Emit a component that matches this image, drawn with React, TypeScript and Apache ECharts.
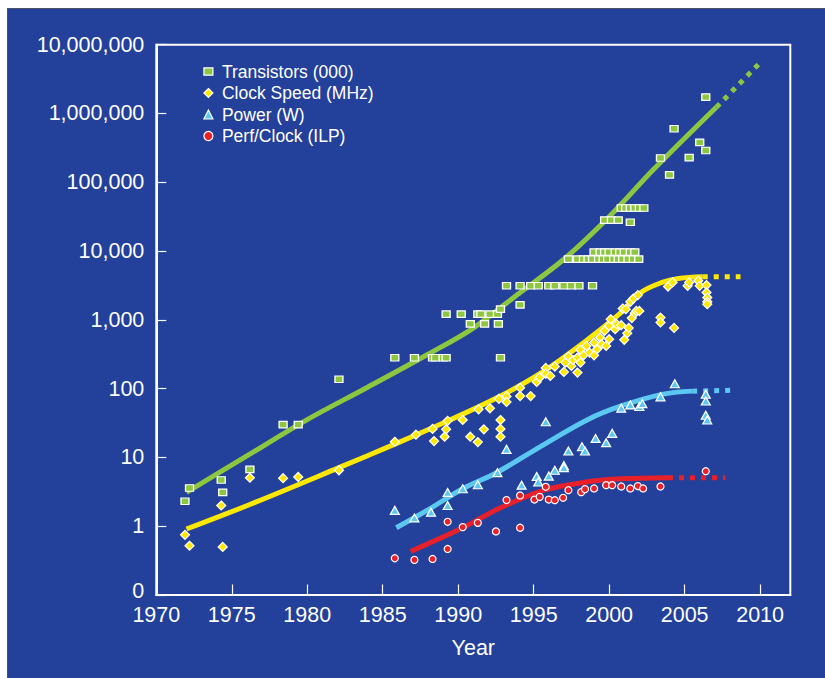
import React, { useEffect, useRef } from 'react';
import * as echarts from 'echarts';

// ---------- data (year, value) ----------
const transistorPoints: [number, number][] = [
  [1971.9, 2.3], [1972.2, 3.6], [1974.3, 4.7], [1974.4, 3.1], [1976.2, 6.7],
  [1978.4, 30], [1979.4, 30], [1982.1, 137],
  [1985.8, 282], [1987.1, 282], [1988.3, 282], [1988.5, 282], [1989.0, 282], [1989.2, 282], [1992.8, 282],
  [1989.2, 1210], [1990.2, 1210], [1991.3, 1210], [1991.5, 1210], [1992.1, 1210], [1992.6, 1210], [1992.8, 1430],
  [1990.8, 875], [1991.75, 875], [1992.66, 875], [1994.1, 1650],
  [1993.2, 3130], [1994.1, 3130], [1994.8, 3130], [1995.3, 3130], [1996.0, 3130], [1996.4, 3130],
  [1997.0, 3130], [1997.5, 3130], [1998.0, 3130], [1998.9, 3130],
  [1997.3, 7640], [1997.9, 7640], [1998.3, 7640], [1998.6, 7640], [1998.9, 7640], [1999.3, 7640], [1999.6, 7640],
  [1999.9, 7640], [2000.3, 7640], [2000.6, 7640], [2000.9, 7640], [2001.25, 7640], [2001.6, 7640], [2001.96, 7640],
  [1999.0, 9660], [1999.4, 9660], [1999.7, 9660], [2000.0, 9660], [2000.4, 9660], [2000.7, 9660],
  [2001.0, 9660], [2001.4, 9660], [2001.7, 9660],
  [1999.7, 28200], [2000.15, 28200], [2000.6, 28200], [2001.4, 26300],
  [2000.8, 42200], [2001.1, 42200], [2001.4, 42200], [2001.7, 42200], [2002.0, 42200], [2002.3, 42200],
  [2003.4, 225000], [2004.0, 128000], [2004.3, 600000], [2005.3, 228000], [2006.0, 380000],
  [2006.4, 290000], [2006.4, 1730000],
];

const clockPoints: [number, number][] = [
  [1971.9, 0.75], [1972.2, 0.52], [1974.3, 2.0], [1974.4, 0.5], [1976.2, 5.06], [1978.4, 5], [1979.4, 5.2],
  [1982.1, 6.5], [1985.8, 16.9], [1987.2, 21.4], [1988.3, 26], [1988.4, 17.3], [1989.1, 20], [1989.2, 25.6],
  [1989.3, 34], [1990.3, 35], [1990.8, 20], [1991.3, 16.7], [1991.35, 50], [1991.7, 25.6], [1992.1, 51.8],
  [1992.7, 71], [1992.8, 35], [1992.8, 26], [1992.8, 20], [1993.2, 77], [1993.2, 64], [1994.1, 103],
  [1994.1, 78], [1994.8, 78], [1995.2, 125], [1995.4, 145], [1995.8, 200], [1995.8, 165], [1996.1, 153],
  [1996.4, 209], [1997.0, 175], [1997.1, 239], [1997.3, 293], [1997.5, 214], [1997.6, 261], [1997.9, 171],
  [1997.9, 283], [1998.1, 366], [1998.1, 239], [1998.3, 305], [1998.5, 418], [1998.7, 334], [1999.0, 305],
  [1999.0, 468], [1999.2, 374], [1999.4, 553], [1999.5, 443], [1999.7, 692], [1999.8, 418], [2000.0, 523],
  [2000.0, 818], [2000.1, 1020], [2000.4, 731], [2000.5, 865], [2000.8, 836], [2000.9, 1460], [2001.0, 512],
  [2001.1, 1430], [2001.2, 640], [2001.3, 764], [2001.4, 1830], [2001.5, 1060], [2001.6, 2040], [2001.7, 1250],
  [2001.8, 1350], [2001.9, 2290], [2002.0, 1350], [2003.4, 1080], [2003.4, 915], [2003.9, 3050], [2004.2, 3500],
  [2004.3, 764], [2005.2, 3120], [2005.3, 3500], [2005.9, 3700], [2006.0, 3120], [2006.45, 3200],
  [2006.45, 2500], [2006.5, 2110], [2006.5, 1830], [2006.5, 1690],
];

const powerPoints: [number, number][] = [
  [1985.8, 1.7], [1987.1, 1.32], [1988.2, 1.6], [1989.3, 2.0], [1989.3, 3.1], [1990.3, 3.5], [1991.3, 4.0],
  [1992.6, 6.0], [1993.2, 13.1], [1994.2, 3.95], [1995.2, 5.3], [1995.3, 4.4], [1995.8, 33], [1996.0, 5.35],
  [1996.4, 6.5], [1997.0, 7.6], [1997.0, 7.1], [1997.3, 12.4], [1998.2, 14.3], [1998.4, 12.4], [1999.1, 18.9],
  [1999.8, 16.4], [2000.2, 22.4], [2000.8, 52], [2001.4, 58], [2002.0, 55], [2002.2, 60.5], [2003.4, 76],
  [2004.35, 118], [2006.4, 83], [2006.4, 66], [2006.4, 41], [2006.5, 35],
];

const ilpPoints: [number, number][] = [
  [1985.8, 0.342], [1987.1, 0.324], [1988.3, 0.334], [1989.3, 0.467], [1989.3, 1.16], [1990.3, 0.97],
  [1991.3, 1.12], [1992.5, 0.84], [1993.2, 2.4], [1994.1, 2.8], [1994.1, 0.95], [1995.05, 2.44], [1995.4, 2.67],
  [1995.8, 3.74], [1996.0, 2.44], [1996.4, 2.39], [1996.95, 2.59], [1997.3, 3.34], [1998.15, 3.13], [1998.4, 3.46],
  [1999.0, 3.54], [1999.8, 3.95], [2000.2, 3.95], [2000.8, 3.78], [2001.4, 3.54], [2001.9, 3.83], [2002.25, 3.54],
  [2003.4, 3.78], [2006.4, 6.3],
];

// trend curves
const transistorTrend: [number, number][] = [
  [1972.0, 3.1], [1976.0, 10.5], [1980.0, 35.5], [1984.0, 105], [1988.0, 316], [1991.0, 760],
  [1994.0, 2400], [1997.0, 7600], [2000.0, 31600], [2003.0, 158000], [2007.1, 1230000],
];
const transistorProjection: [number, number][] = [[2007.1, 1230000], [2010.05, 5620000]];

const clockTrend: [number, number][] = [
  [1972.0, 0.91], [1976.2, 2.07], [1982.1, 7.1], [1985.8, 15.6], [1989.3, 33.8], [1992.8, 78],
  [1995.7, 181], [1998.6, 522], [2000.8, 1280], [2002.1, 2500], [2003.5, 3500], [2004.6, 4000], [2006.2, 4230],
];
const clockProjection: [number, number][] = [[2006.2, 4230], [2008.7, 4230]];

const powerTrend: [number, number][] = [
  [1985.9, 0.95], [1988.0, 1.73], [1990.3, 3.5], [1992.6, 6.1], [1995.7, 15.5], [1998.6, 35.7],
  [2000.8, 56], [2003.5, 82.6], [2005.5, 92],
];
const powerProjection: [number, number][] = [[2005.5, 92], [2008.3, 95]];

const ilpTrend: [number, number][] = [
  [1986.85, 0.43], [1990.3, 0.95], [1992.8, 1.85], [1995.7, 3.34], [1998.6, 4.43], [2000.8, 4.89], [2003.9, 5.06],
];
const ilpProjection: [number, number][] = [[2003.9, 5.06], [2007.7, 5.06]];

const seriesNames = ['Transistors (000)', 'Clock Speed (MHz)', 'Power (W)', 'Perf/Clock (ILP)'];
const xTickLabels = [1970, 1975, 1980, 1985, 1990, 1995, 2000, 2005, 2010];
const yZeroLabel = '0';

// ---------- styles ----------
const BG = '#23409A';
const FONT = 'Liberation Sans, Arial, sans-serif';
const GREEN = '#8DC63F';
const YELLOW = '#FFE800';
const BLUE = '#5BC8F2';
const RED = '#E8202A';

function trendSeries(name: string, data: [number, number][], color: string, dashed: boolean) {
  return {
    type: 'line',
    name,
    data,
    smooth: dashed ? false : 0.35,
    showSymbol: false,
    symbol: 'none',
    silent: true,
    z: 2,
    lineStyle: { color, width: 5, type: dashed ? [5, 6] : 'solid', cap: 'butt' },
  };
}

function scatterSeries(name: string, data: [number, number][], symbol: string, size: any, color: string) {
  return {
    type: 'scatter',
    name,
    data,
    symbol,
    symbolSize: size,
    z: 3,
    itemStyle: { color, borderColor: '#ffffff', borderWidth: 1.2, opacity: 1 },
  };
}

export default function App() {
  const ref = useRef<HTMLDivElement>(null);
  useEffect(() => {
    document.body.style.margin = '0';
    document.body.style.overflow = 'hidden';
    const chart = echarts.init(ref.current!, null, { renderer: 'svg' });
    const axisLine = { show: true, lineStyle: { color: '#ffffff', width: 2 } };
    chart.setOption({
      animation: false,
      grid: { left: 148.3, right: 34.7, top: 35.7, bottom: 83, show: true, borderColor: '#ffffff', borderWidth: 2 },
      legend: {
        orient: 'vertical',
        left: 195.3,
        top: 52.5,
        padding: 0,
        itemWidth: 9,
        itemHeight: 9,
        itemGap: 1.5,
        selectedMode: false,
        itemStyle: { borderColor: '#ffffff', borderWidth: 1.2 },
        data: [
          { name: seriesNames[0], icon: 'path://M0 0H10V8H0Z' },
          { name: seriesNames[1] },
          { name: seriesNames[2] },
          { name: seriesNames[3] },
        ],
        textStyle: { color: '#ffffff', fontSize: 17.5, fontFamily: FONT, lineHeight: 20, padding: [0, 0, 0, 4] },
      },
      xAxis: {
        type: 'value',
        min: 1970,
        max: 2012,
        interval: 5,
        axisLine,
        axisTick: { show: true, inside: true, length: 10.5, lineStyle: { color: '#ffffff', width: 1.2 } },
        axisLabel: {
          color: '#ffffff', fontSize: 21.5, fontFamily: FONT, margin: 10, showMaxLabel: false, lineHeight: 20,
          formatter: (v: number) => (xTickLabels.indexOf(Math.round(v)) >= 0 ? String(Math.round(v)) : ''),
        },
        splitLine: { show: false },
        name: 'Year',
        nameLocation: 'middle',
        nameGap: 42,
        nameTextStyle: { color: '#ffffff', fontSize: 21.5, fontFamily: FONT },
      },
      yAxis: {
        type: 'log',
        logBase: 10,
        min: 0.1,
        max: 10000000,
        splitNumber: 8,
        axisLine,
        axisTick: { show: true, inside: true, length: 10, lineStyle: { color: '#ffffff', width: 1.2 } },
        axisLabel: {
          color: '#ffffff', fontSize: 21.5, fontFamily: FONT, margin: 12, lineHeight: 16,
          formatter: (v: number) => (v < 0.5 ? '{z|' + yZeroLabel + '}' : Math.round(v).toLocaleString('en-US')),
          rich: {
            z: { color: '#ffffff', fontSize: 21.5, fontFamily: FONT, lineHeight: 14, padding: [0, 0, 8, 0] },
          },
        },
        splitLine: { show: false },
      },
      series: [
        trendSeries('tr-fit', transistorTrend, GREEN, false),
        trendSeries('tr-proj', transistorProjection, GREEN, true),
        trendSeries('clk-fit', clockTrend, YELLOW, false),
        trendSeries('clk-proj', clockProjection, YELLOW, true),
        trendSeries('pw-fit', powerTrend, BLUE, false),
        trendSeries('pw-proj', powerProjection, BLUE, true),
        trendSeries('ilp-fit', ilpTrend, RED, false),
        trendSeries('ilp-proj', ilpProjection, RED, true),
        scatterSeries(seriesNames[0], transistorPoints, 'rect', [8, 6.5], GREEN),
        scatterSeries(seriesNames[1], clockPoints, 'diamond', 9, YELLOW),
        scatterSeries(seriesNames[2], powerPoints, 'triangle', [9, 8], BLUE),
        scatterSeries(seriesNames[3], ilpPoints, 'circle', 7, RED),
      ],
    });
    return () => chart.dispose();
  }, []);
  return (
    <div style={{ position: 'relative', width: 825, height: 678, background: '#ffffff', overflow: 'hidden' }}>
      <div
        style={{
          position: 'absolute', left: 7, top: 8, width: 818, height: 670, background: BG,
          borderLeft: '1px solid #4a4f6a', borderTop: '1px solid #4a4f6a', boxSizing: 'border-box',
        }}
      />
      <div ref={ref} style={{ position: 'absolute', left: 8, top: 9, width: 817, height: 669 }} />
    </div>
  );
}
